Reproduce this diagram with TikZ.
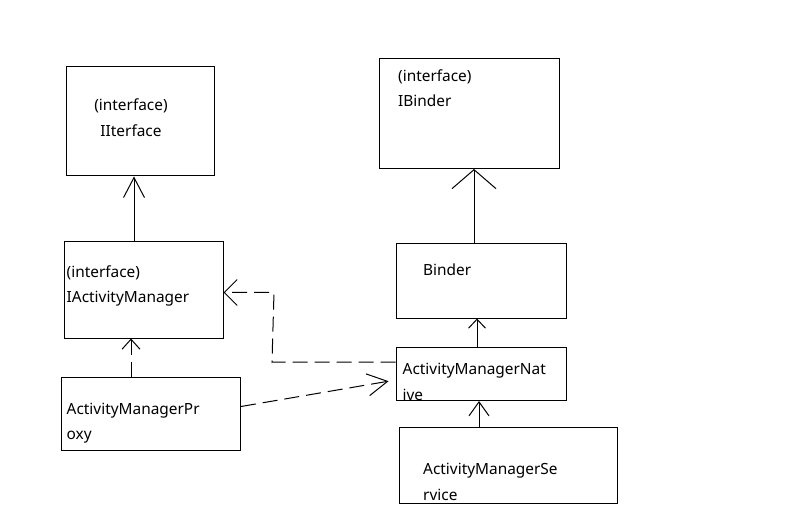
\documentclass[tikz,border=0pt]{standalone}
\usepackage{fontspec}
\setmainfont{Noto Sans}
\usetikzlibrary{arrows.meta,positioning}
\tikzset{
    classbox/.style={draw, line width=1pt, inner sep=0pt, anchor=north west},
    classname/.style={anchor=base west, inner sep=0pt, align=left, font=\fontsize{15.4}{25.5}\selectfont},
    extends/.style n args={2}{-{Straight Barb[length=#1pt, width=#2pt]}, line width=1pt},
    realizes/.style n args={2}{extends={#1}{#2}, dash pattern=on 15pt off 7pt}
}
\begin{document}
\begin{tikzpicture}[x=1pt, y=-1pt]
                    \fill[white] (0,0) rectangle (807,532);
                    \useasboundingbox (0,0) rectangle (807,532);
                    % boxes
                    \node[classbox, minimum width=148pt, minimum height=109.5pt] (iiface) at (65.5,66) {};
                    \node[classbox, minimum width=180pt, minimum height=109.5pt] (ibinder) at (378.5,58.5) {};
                    \node[classbox, minimum width=159pt, minimum height=96pt] (iam) at (63.5,241.5) {};
                    \node[classbox, minimum width=169.5pt, minimum height=74.5pt] (binder) at (396,243) {};
                    \node[classbox, minimum width=170pt, minimum height=53.5pt] (amn) at (395.5,346.5) {};
                    \node[classbox, minimum width=179pt, minimum height=72.5pt] (amp) at (61,377) {};
                    \node[classbox, minimum width=217.5pt, minimum height=76pt] (ams) at (399,427) {};
                    % names (base = last line)
                    \node[classname, anchor=base, align=center] (iifacetxt) at (131,136.5) {(interface)\\IIterface};
                    \node[classname] (ibindertxt) at (398,107) {(interface)\\IBinder};
                    \node[classname] (iamtxt) at (66.5,302.5) {(interface)\\IActivityManager};
                    \node[classname] (bindertxt) at (423,275.5) {Binder};
                    \node[classname] (amntxt) at (402.5,400) {ActivityManagerNat\\ive};
                    \node[classname] (amptxt) at (66.5,439.5) {ActivityManagerPr\\oxy};
                    \node[classname] (amstxt) at (423,500) {ActivityManagerSe\\rvice};
                    % connectors
                    \draw[extends={20}{21}] (134,0 |- iam.north) -- (134,0 |- iiface.south);
                    \draw[extends={19}{44}] (474,0 |- binder.north) -- (474,0 |- ibinder.south);
                    \draw[extends={9}{17}] (477,0 |- amn.north) -- (477,0 |- binder.south);
                    \draw[extends={14}{20}] (479,0 |- ams.north) -- (479,0 |- amn.south);
                    \draw[realizes={10}{18}] (131,0 |- amp.north) -- (131,0 |- iam.south);
                    \draw[realizes={13}{26}] (amn.west |- 0,362) -- (272,362) -- (274,292.5) -- (iam.east |- 0,292.5);
                    \draw[realizes={20}{22}, shorten >=7pt] (amp.east |- 0,406.5) -- (amn.west |- 0,380);
                \end{tikzpicture}
\end{document}
